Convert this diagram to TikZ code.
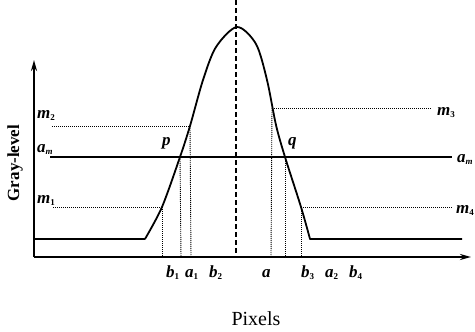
\documentclass[tikz,border=0pt]{standalone}
\usepackage{fontspec}
\setmainfont{Liberation Serif}
\usetikzlibrary{arrows.meta}
\newcommand\lb[2]{#1{\upshape\fontsize{9}{9}\selectfont\raisebox{-2.5pt}{#2}}}
\begin{document}
\begin{tikzpicture}[x=1pt,y=-1pt,
  lbl/.style={font=\bfseries\itshape\fontsize{17}{17}\selectfont, inner sep=0pt},
  ttl/.style={font=\bfseries\fontsize{17}{17}\selectfont, inner sep=0pt},
  ttlx/.style={font=\fontsize{20}{20}\selectfont, inner sep=0pt},
  axisline/.style={line width=2.2pt, -{Stealth[length=11pt,width=6pt]}},
  curveline/.style={line width=1.8pt, line join=round},
  levelline/.style={line width=1.6pt},
  dotline/.style={line width=0.9pt, dash pattern=on 1pt off 1pt},
  dashline/.style={line width=1.5pt, dash pattern=on 5pt off 3pt}]
\useasboundingbox (0,0) rectangle (475,332);
% axes
\coordinate (O) at (34,257);
\coordinate (ytip) at (34,60);
\coordinate (xtip) at (471,257);
\draw[axisline] (O) -- (ytip);
\draw[axisline] (O) -- (xtip);
% curve points
\coordinate (c0) at (34,239);
\coordinate (c1) at (145,239);
\coordinate (pm1) at (162,207);
\coordinate (pam) at (180,157);
\coordinate (pm2) at (190,126);
\coordinate (top) at (237,27);
\coordinate (pm3) at (272,108);
\coordinate (qam) at (285,157);
\coordinate (pm4) at (301,207);
\coordinate (c2) at (310,239);
\coordinate (c3) at (462,239);
\draw[curveline] (c0) -- (c1) plot[smooth, tension=0.5] coordinates {(145,239) (162,207) (180,157) (190,126) (203,80) (216,47) (237,27) (256,44) (267,80) (276,125) (285,157) (301,207) (310,239)} -- (c3);
% dashed centre line
\coordinate (dtop) at (236,0);
\coordinate (dbot) at (236,257);
\draw[dashline] (dtop) -- (dbot);
% a_m line
\coordinate (amL) at (50,157);
\coordinate (amR) at (452,157);
\draw[levelline] (amL) -- (amR);
% dotted level lines
\coordinate (m2L) at (52,126);
\coordinate (m1L) at (53,207);
\coordinate (m3R) at (432,108);
\coordinate (m4R) at (452,207);
\draw[dotline] (m2L) -- (pm2);
\draw[dotline] (m1L) -- (pm1);
\draw[dotline] (pm3) -- (m3R);
\draw[dotline] (pm4) -- (m4R);
% dotted verticals
\coordinate (vb1) at (162,257);
\coordinate (va1) at (181,257);
\coordinate (vb2) at (191,257);
\coordinate (va) at (271,257);
\coordinate (va2) at (285,257);
\coordinate (vb3) at (301,257);
\draw[dotline] (pm1) -- (vb1);
\draw[dotline] (pam) -- (va1);
\draw[dotline] (pm2) -- (vb2);
\draw[dotline] (pm3) -- (va);
\draw[dotline] (qam) -- (va2);
\draw[dotline] (pm4) -- (vb3);
% labels
\node[lbl, anchor=base west] (lm2) at (37,118) {\lb{m}{2}};
\node[lbl, anchor=base west] (lam) at (37,152) {\lb{a}{\itshape m}};
\node[lbl, anchor=base west] (lm1) at (37,203) {\lb{m}{1}};
\node[lbl, anchor=base west] (lm3) at (437,115) {\lb{m}{3}};
\node[lbl, anchor=base west] (lamr) at (457,162) {\lb{a}{\itshape m}};
\node[lbl, anchor=base west] (lm4) at (456,213) {\lb{m}{4}};
\node[lbl, anchor=base west] (lp) at (162,145) {p};
\node[lbl, anchor=base west] (lq) at (288,145) {q};
\node[lbl, anchor=base west] (lb1) at (166,277) {\lb{b}{1}};
\node[lbl, anchor=base west] (la1) at (185,277) {\lb{a}{1}};
\node[lbl, anchor=base west] (lb2) at (209,277) {\lb{b}{2}};
\node[lbl, anchor=base west] (la) at (262,277) {a};
\node[lbl, anchor=base west] (lb3) at (301,277) {\lb{b}{3}};
\node[lbl, anchor=base west] (la2) at (325,277) {\lb{a}{2}};
\node[lbl, anchor=base west] (lb4) at (349,277) {\lb{b}{4}};
\node[ttl, rotate=90] (gl) at (15,163) {Gray-level};
\node[ttlx] (px) at (256,319) {Pixels};
\end{tikzpicture}
\end{document}
